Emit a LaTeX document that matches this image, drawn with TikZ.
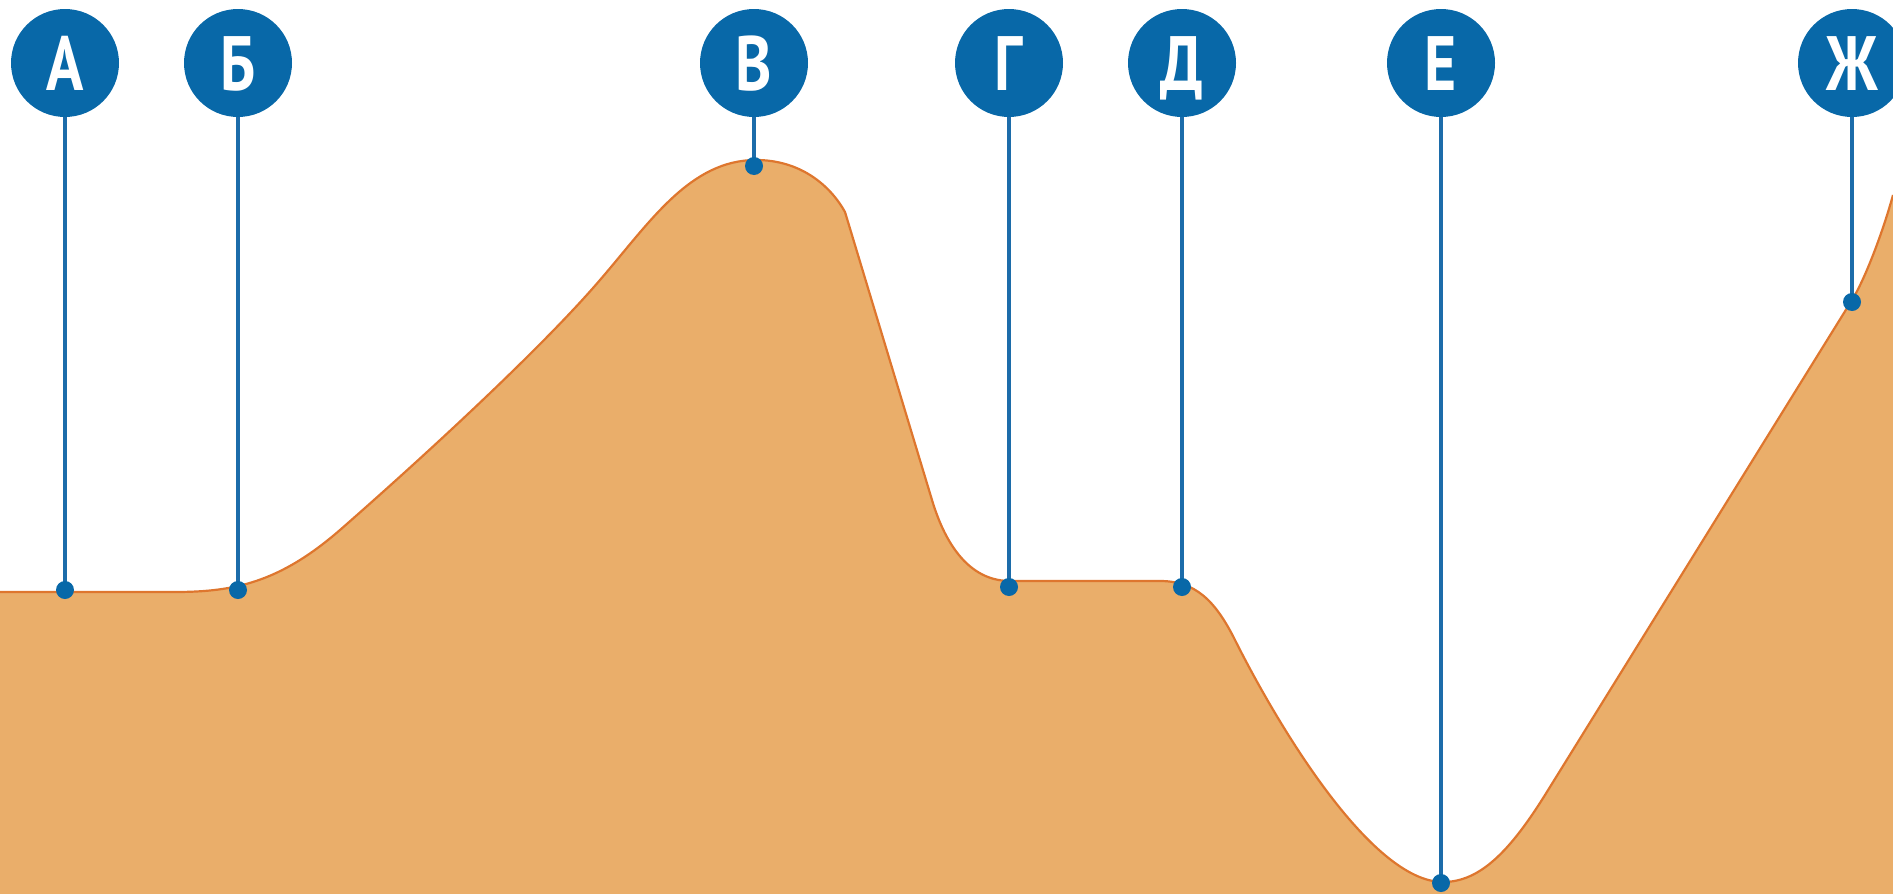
\documentclass[tikz,border=0pt]{standalone}
\usepackage{fontspec}
\newfontfamily\labfont[FakeStretch=0.8]{PT Sans}
\definecolor{pinblue}{RGB}{8,104,168}
\definecolor{stemblue}{RGB}{28,108,170}
\definecolor{sand}{RGB}{234,174,106}
\definecolor{rim}{RGB}{222,118,46}
\def\ridge{(0,592) -- (175,592) .. controls (235,592) and (280,582) .. (340,530) .. controls (420,460) and (540,350) .. (600,280) .. controls (650,222) and (690,160) .. (756,160) .. controls (800,160) and (830,185) .. (845,212) -- (932,500) .. controls (941,530) and (962,581) .. (1010,581) -- (1160,581) .. controls (1195,581) and (1215,600) .. (1235,640) .. controls (1275,720) and (1370,882) .. (1443,882) .. controls (1480,882) and (1510,851) .. (1545,795) -- (1852,300) .. controls (1864,281) and (1882,235) .. (1893,195)}
\begin{document}
\begin{tikzpicture}[x=1pt,y=-1pt,
  pinlabel/.style={circle, fill=pinblue, minimum size=108pt, inner sep=0pt, text=white,
    font={\labfont\bfseries\fontsize{77}{80}\selectfont}, text height=54pt, text depth=0pt},
  stemline/.style={draw=stemblue, line width=4pt},
  dotmark/.style={fill=pinblue}]
\useasboundingbox (0,0) rectangle (1893,894);
\clip (0,0) rectangle (1893,894);
% ground
\fill[sand] \ridge -- (1893,894) -- (0,894) -- cycle;
\draw[rim, line width=2.2pt] \ridge;
% points on the profile
\coordinate (dA) at (65,590);
\coordinate (dB) at (238,590);
\coordinate (dV) at (754,166);
\coordinate (dG) at (1009,587);
\coordinate (dD) at (1182,587);
\coordinate (dE) at (1441,883);
\coordinate (dZ) at (1852,302);
% labels
\node[pinlabel] (A) at (65,63) {А};
\node[pinlabel] (B) at (238,63) {Б};
\node[pinlabel] (V) at (754,63) {В};
\node[pinlabel] (G) at (1009,63) {Г};
\node[pinlabel] (D) at (1182,63) {Д};
\node[pinlabel] (E) at (1441,63) {Е};
\node[pinlabel] (Z) at (1852,63) {Ж};
% stems
\foreach \n/\d in {A/dA,B/dB,V/dV,G/dG,D/dD,E/dE,Z/dZ}{
  \draw[stemline] (\n) -- (\d);
  \fill[dotmark] (\d) circle (9pt);
}
\end{tikzpicture}
\end{document}
